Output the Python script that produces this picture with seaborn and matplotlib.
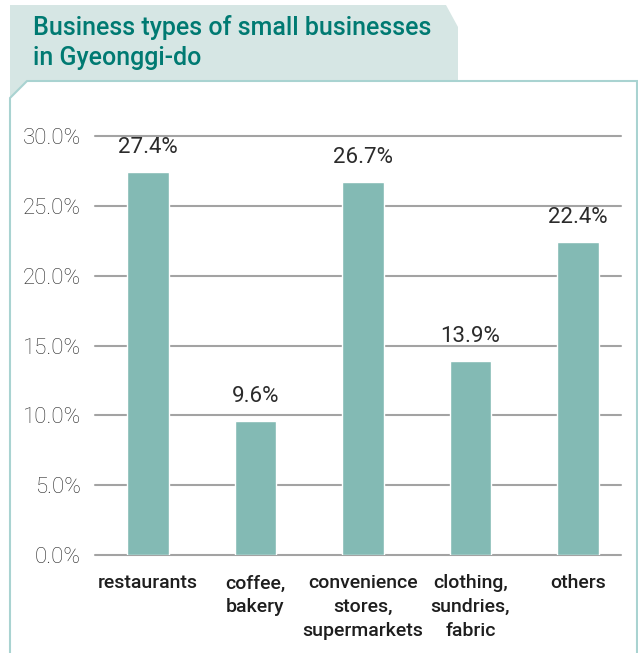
import matplotlib
matplotlib.use("Agg")
import matplotlib.pyplot as plt
from matplotlib.patches import Polygon
import seaborn as sns

# Shares of small businesses by type (percent)
categories = ["restaurants", "coffee,\nbakery", "convenience\nstores,\nsupermarkets",
              "clothing,\nsundries,\nfabric", "others"]
values = [27.4, 9.6, 26.7, 13.9, 22.4]
value_labels = ["27.4%", "9.6%", "26.7%", "13.9%", "22.4%"]
yticks = [0, 5, 10, 15, 20, 25, 30]
ytick_labels = ["0.0%", "5.0%", "10.0%", "15.0%", "20.0%", "25.0%", "30.0%"]
title_lines = ["Business types of small businesses", "in Gyeonggi-do"]

sns.set_theme(style="white")
plt.rcParams["font.family"] = ["Roboto", "DejaVu Sans"]

W, H = 638, 653
DPI = 100
fig = plt.figure(figsize=(W / DPI, H / DPI), dpi=DPI)
fig.patch.set_facecolor("white")


def fx(px):
    return px / W


def fy(py):
    return 1 - py / H


# title tab with clipped top-right corner
tab = Polygon([(fx(10), fy(5)), (fx(446), fy(5)), (fx(458), fy(27)), (fx(458), fy(81)),
               (fx(27), fy(81)), (fx(10), fy(98))],
              closed=True, transform=fig.transFigure, facecolor="#d6e6e4",
              edgecolor="none", zorder=0)
fig.patches.append(tab)

# white chart panel with a cut top-left corner
panel = Polygon([(fx(27), fy(81)), (fx(637), fy(81)), (fx(637), fy(670)),
                 (fx(10), fy(670)), (fx(10), fy(98))],
                closed=True, transform=fig.transFigure, facecolor="white",
                edgecolor="#a9d3d1", linewidth=1.5, zorder=1)
fig.patches.append(panel)

for line, base in zip(title_lines, [35, 65]):
    fig.text(fx(33), fy(base), line, color="#007a72", fontsize=18, fontweight="medium",
             ha="left", va="baseline", zorder=3)

# plot area
left, right = 95, 621
top, bottom = 136, 555
ax = fig.add_axes([fx(left), fy(bottom), fx(right - left), (bottom - top) / H])
ax.set_zorder(2)
ax.patch.set_alpha(0)

sns.barplot(x=categories, y=values, color="#83bab4", width=0.39, saturation=1,
            ax=ax, zorder=3)

ax.set_ylim(0, 30)
ax.set_xlim(-0.493, 4.40)
ax.set_yticks(yticks)
ax.set_yticklabels(ytick_labels)
ax.set_xlabel("")
ax.set_ylabel("")

ax.grid(axis="y", color="#a3a3a3", linewidth=1.5)
ax.grid(axis="x", visible=False)
ax.set_axisbelow(True)
for gl in ax.get_ygridlines():
    gl.set_clip_on(False)
for s in ax.spines.values():
    s.set_visible(False)

ax.tick_params(axis="y", length=0, pad=10, labelsize=16, labelcolor="#2a2a2a")
for t in ax.get_yticklabels():
    t.set_fontweight("light")
ax.tick_params(axis="x", length=0, pad=14, labelsize=14, labelcolor="#1e1e1e")
for t in ax.get_xticklabels():
    t.set_ha("center")
    t.set_multialignment("center")
    t.set_va("top")
    t.set_linespacing(1.4)
    t.set_fontweight("medium")

for i, (v, lab) in enumerate(zip(values, value_labels)):
    ax.annotate(lab, xy=(i, v), xytext=(0, 19), textcoords="offset pixels",
                ha="center", va="baseline", fontsize=16, color="#2b2b2b",
                annotation_clip=False)

fig.savefig("out.png", dpi=DPI, facecolor="white")
